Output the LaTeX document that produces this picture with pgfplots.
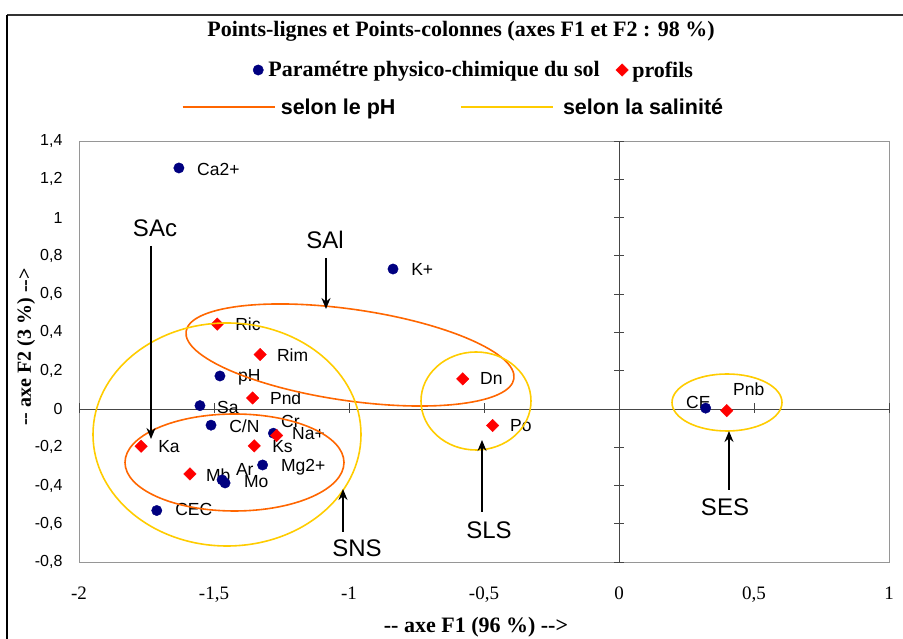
\documentclass[border=0pt]{standalone}
\usepackage{fontspec}
\setmainfont{Liberation Serif}
\newfontfamily\arial{Liberation Sans}
\usepackage{pgfplots}
\pgfplotsset{compat=1.18}
\usetikzlibrary{arrows.meta}
\definecolor{navyC}{RGB}{0,0,128}
\definecolor{redC}{RGB}{255,0,0}
\definecolor{orangeC}{RGB}{255,102,0}
\definecolor{yellowC}{RGB}{255,204,0}
\definecolor{axC}{RGB}{70,70,70}
\definecolor{frC}{RGB}{150,150,150}
\begin{document}
\begin{tikzpicture}
\useasboundingbox (0,0) rectangle (903pt,639pt);
\begin{axis}[
  at={(79pt,77pt)}, anchor=south west,
  scale only axis, width=810pt, height=421pt,
  xmin=-2, xmax=1, ymin=-0.8, ymax=1.4,
  xtick={-2,-1.5,-1,-0.5,0,0.5,1},
  ytick={-0.8,-0.6,-0.4,-0.2,0,0.2,0.4,0.6,0.8,1,1.2,1.4},
  major tick length=0pt,
  axis line style={draw=frC, line width=0.8pt},
  xticklabel style={font=\fontsize{19}{19}\selectfont, yshift=-21pt},
  yticklabel style={font=\arial\fontsize{16}{16}\selectfont, xshift=-13pt},
  /pgf/number format/use comma,
  /pgf/number format/assume math mode=true,
  clip=false,
  legend style={at={(0.4877,1.1686)}, anchor=center, draw=none, fill=none,
    font=\bfseries\fontsize{22}{24}\selectfont,
    /tikz/column 1/.style={column sep=3pt},
    /tikz/column 2/.style={column sep=14pt},
    /tikz/column 3/.style={column sep=2pt}},
  legend columns=2,
  legend cell align=left,
]
% origin lines with their ticks
\draw[axC, line width=0.8pt] (axis cs:-2,0) -- (axis cs:1,0);
\draw[axC, line width=0.8pt] (axis cs:0,-0.8) -- (axis cs:0,1.4);
\pgfplotsinvokeforeach{-2,-1.5,-1,-0.5,0.5,1}{
  \draw[axC, line width=0.8pt] (axis cs:#1,0) ++(0pt,-4pt) -- ++(0pt,10pt);
}
\pgfplotsinvokeforeach{-0.8,-0.6,-0.4,-0.2,0.2,0.4,0.6,0.8,1,1.2,1.4}{
  \draw[axC, line width=0.8pt] (axis cs:0,#1) ++(-5pt,0pt) -- ++(10pt,0pt);
}
% Parametres physico-chimiques du sol
\addplot[only marks, mark=*, mark size=5.2pt, color=navyC] coordinates {
  (-1.630,1.259) (-0.837,0.731) (-1.478,0.172) (-1.552,0.017)
  (-1.511,-0.085) (-1.280,-0.127) (-1.320,-0.293) (-1.470,-0.371)
  (-1.459,-0.387) (-1.712,-0.531) (0.321,0.004)
};
\addlegendentry{Paramétre physico-chimique du sol}
% profils
\addplot[only marks, mark=square*, mark options={rotate=45}, mark size=4.4pt, color=redC] coordinates {
  (-1.488,0.443) (-1.329,0.284) (-1.357,0.057) (-1.770,-0.195)
  (-1.351,-0.193) (-1.268,-0.139) (-1.589,-0.340) (-0.579,0.157)
  (-0.468,-0.087) (0.399,-0.009)
};
\addlegendentry{profils}
% point labels
\begin{scope}[every node/.style={anchor=west, inner sep=0pt, font=\arial\fontsize{17.5}{17.5}\selectfont}]
\node at (axis cs:-1.563,1.249) {Ca2+};
\node at (axis cs:-0.770,0.726) {K+};
\node at (axis cs:-1.422,0.444) {Ric};
\node at (axis cs:-1.267,0.282) {Rim};
\node at (axis cs:-1.411,0.167) {pH};
\node at (axis cs:-1.293,0.057) {Pnd};
\node at (axis cs:-1.489,0.010) {Sa};
\node at (axis cs:-1.444,-0.089) {C/N};
\node at (axis cs:-1.252,-0.068) {Cr};
\node at (axis cs:-1.211,-0.131) {Na+};
\node at (axis cs:-1.707,-0.199) {Ka};
\node at (axis cs:-1.285,-0.199) {Ks};
\node at (axis cs:-1.252,-0.303) {Mg2+};
\node at (axis cs:-1.530,-0.345) {Mb};
\node at (axis cs:-1.419,-0.319) {Ar};
\node at (axis cs:-1.389,-0.381) {Mo};
\node at (axis cs:-1.644,-0.528) {CEC};
\node at (axis cs:-0.515,0.157) {Dn};
\node at (axis cs:-0.404,-0.087) {Po};
\node at (axis cs:0.248,0.031) {CE};
\node at (axis cs:0.422,0.104) {Pnb};
\end{scope}
\end{axis}
% second legend row
\begin{axis}[
  at={(79pt,77pt)}, anchor=south west,
  scale only axis, width=810pt, height=421pt,
  hide axis, xmin=0, xmax=1, ymin=0, ymax=1,
  legend style={at={(0.462,1.0808)}, anchor=center, draw=none, fill=none,
    font=\arial\bfseries\fontsize{21.5}{23}\selectfont,
    /tikz/column 1/.style={column sep=3pt},
    /tikz/column 2/.style={column sep=62pt},
    /tikz/column 3/.style={column sep=7pt}},
  legend columns=2,
  legend image code/.code={\draw[#1] (0pt,0pt) -- (92pt,0pt);},
]
\addlegendimage{orangeC, line width=2.5pt}
\addlegendentry{selon le pH}
\addlegendimage{yellowC, line width=2.5pt}
\addlegendentry{selon la salinité}
\end{axis}
\begin{scope}[x=1pt, y=-1pt, shift={(0pt,639pt)}]
% frame
\draw[black!80, line width=2pt] (7,15) -- (903,15);
\draw[black, line width=1.5pt] (7,15) -- (7,639);
% title and axis labels
\node[font=\bfseries\fontsize{22}{24}\selectfont] at (461,31) {Points-lignes et Points-colonnes (axes F1 et F2 : 98 \%)};
\node[font=\bfseries\fontsize{22}{24}\selectfont] at (476,627) {-{}- axe F1 (96 \%) -{}->};
\node[rotate=90, font=\bfseries\fontsize{20}{22}\selectfont] at (26,347) {-{}- axe F2 (3 \%) -{}->};
% ellipses
\draw[orangeC, line width=1.6pt, rotate around={-8.2:(350,355)}] (350,355) ellipse [x radius=165.6pt, y radius=45.7pt];
\draw[yellowC, line width=1.6pt] (227,434.5) ellipse [x radius=134pt, y radius=111.5pt];
\draw[orangeC, line width=1.6pt] (234.5,462.5) ellipse [x radius=109.5pt, y radius=48.5pt];
\draw[yellowC, line width=1.6pt] (476,401) ellipse [x radius=55pt, y radius=49pt];
\draw[yellowC, line width=1.6pt] (727,402.5) ellipse [x radius=55pt, y radius=28.5pt];
% arrows and group names
\begin{scope}[every node/.style={font=\arial\fontsize{24}{24}\selectfont, inner sep=0pt}]
\draw[line width=1.6pt, -{Stealth[length=11pt, width=9pt]}] (151,246) -- (151,439);
\node at (155,228) {SAc};
\draw[line width=1.6pt, -{Stealth[length=11pt, width=9pt]}] (326,258) -- (326,309);
\node at (325,240) {SAl};
\draw[line width=1.6pt, -{Stealth[length=11pt, width=9pt]}] (343,532) -- (343,489);
\node at (357,548) {SNS};
\draw[line width=1.6pt, -{Stealth[length=11pt, width=9pt]}] (482,512) -- (482,440);
\node at (489,530) {SLS};
\draw[line width=1.6pt, -{Stealth[length=11pt, width=9pt]}] (729,490) -- (729,431);
\node at (725,507) {SES};
\end{scope}
\end{scope}
\end{tikzpicture}
\end{document}
